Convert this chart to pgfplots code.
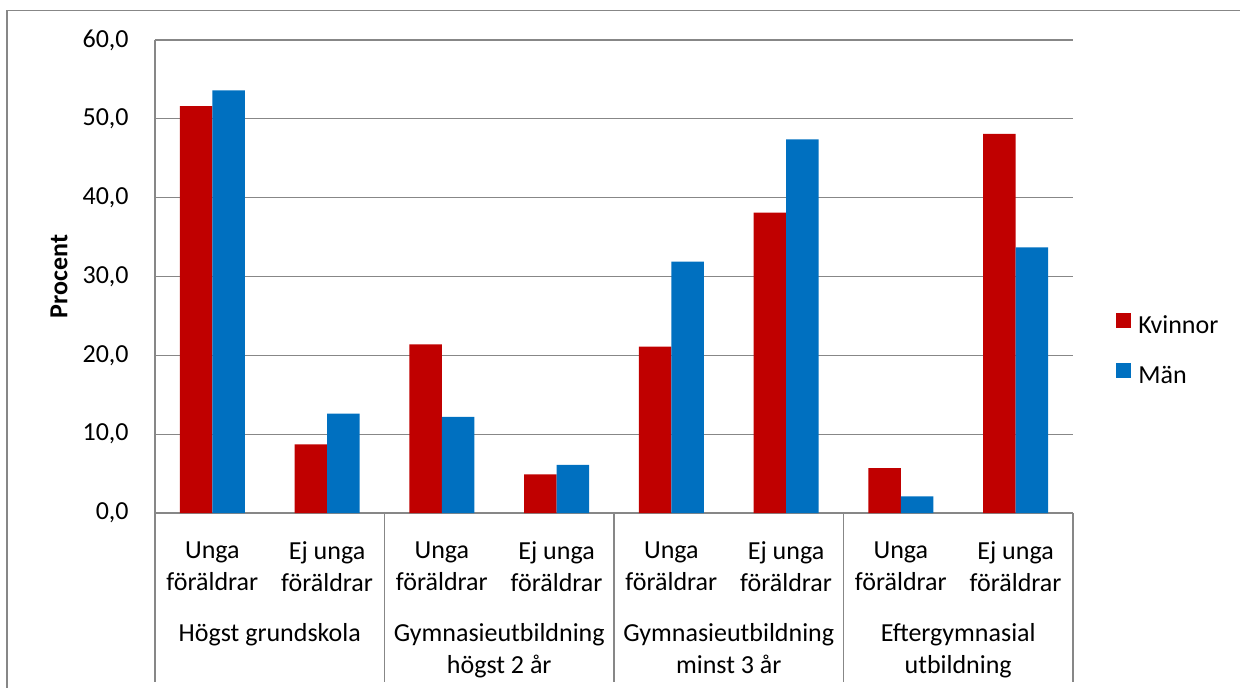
\documentclass[border=0pt]{standalone}
\usepackage{fontspec}
\setmainfont{Carlito}
\usepackage{pgfplots}
\pgfplotsset{compat=1.18}
\definecolor{kv}{HTML}{C00000}
\definecolor{man}{HTML}{0070C0}
\definecolor{gridgray}{HTML}{878787}
\newcommand{\lblfont}{\fontsize{13bp}{16bp}\selectfont}

\begin{document}
\lblfont
\begin{tikzpicture}
\useasboundingbox (-77.5bp,-87.5bp) rectangle (542.5bp,256.5bp);
\clip (-77.5bp,-87.5bp) rectangle (542.5bp,256.5bp);
\draw[gridgray, line width=0.7bp] (-74bp,-150bp) rectangle (600bp,251.2bp);
\begin{axis}[
  scale only axis, width=459bp, height=236.5bp,
  ybar=0pt, bar width=16.25bp,
  xmin=-0.5, xmax=7.5, ymin=0, ymax=60,
  xtick={0,...,7},
  xticklabels={Unga\\föräldrar, Ej unga\\föräldrar, Unga\\föräldrar, Ej unga\\föräldrar,
               Unga\\föräldrar, Ej unga\\föräldrar, Unga\\föräldrar, Ej unga\\föräldrar},
  ytick={0,10,...,60},
  major tick length=0pt,
  axis x line*=bottom, axis y line*=left,
  axis line style={gridgray, line width=0.65bp},
  ymajorgrids, grid style={gridgray, line width=0.65bp},
  every tick label/.append style={font=\lblfont, text=black},
  xticklabel style={align=center, anchor=north, inner sep=0pt, yshift=-14.2bp},
  yticklabel style={anchor=east, inner sep=0pt, xshift=-13bp,
    /pgf/number format/.cd, fixed, fixed zerofill, precision=1, use comma, assume math mode=true},
  scaled y ticks=false,
  ylabel={\bfseries Procent},
  ylabel style={at={(axis description cs:-0.1046,0.5)}, anchor=center, font=\lblfont},
  clip=false,
  legend style={at={(1.0468,0.3415)}, anchor=west, draw=none, fill=none, inner sep=0pt,
    font=\lblfont, row sep=11.5bp, column sep=0pt,
    nodes={inner sep=0pt, anchor=west, text height=9bp, text depth=3bp}},
  legend image code/.code={\fill[#1] (0bp,0bp) rectangle (7.5bp,7.5bp);},
  legend cell align=left,
]
\addplot[fill=kv, draw=none] coordinates {(0,51.6) (1,8.7) (2,21.4) (3,4.9) (4,21.1) (5,38.1) (6,5.7) (7,48.1)};
\addlegendentry{\hspace{3.5bp}Kvinnor}
\addplot[fill=man, draw=none] coordinates {(0,53.6) (1,12.6) (2,12.2) (3,6.1) (4,31.9) (5,47.4) (6,2.1) (7,33.7)};
\addlegendentry{\hspace{3.5bp}Män}

\foreach \s in {-0.5,1.5,3.5,5.5,7.5} {
  \edef\tmp{\noexpand\draw[gridgray, line width=0.65bp] (axis cs:\s,0) -- ++(0pt,-84.5bp);}
  \tmp
}
\node[anchor=north, align=center, inner sep=0pt, font=\lblfont] at ([yshift=-55.2bp]axis cs:0.5,0) {Högst grundskola};
\node[anchor=north, align=center, inner sep=0pt, font=\lblfont] at ([yshift=-55.2bp]axis cs:2.5,0) {Gymnasieutbildning\\högst 2 år};
\node[anchor=north, align=center, inner sep=0pt, font=\lblfont] at ([yshift=-55.2bp]axis cs:4.5,0) {Gymnasieutbildning\\minst 3 år};
\node[anchor=north, align=center, inner sep=0pt, font=\lblfont] at ([yshift=-55.2bp]axis cs:6.5,0) {Eftergymnasial\\utbildning};
\end{axis}
\end{tikzpicture}
\end{document}
